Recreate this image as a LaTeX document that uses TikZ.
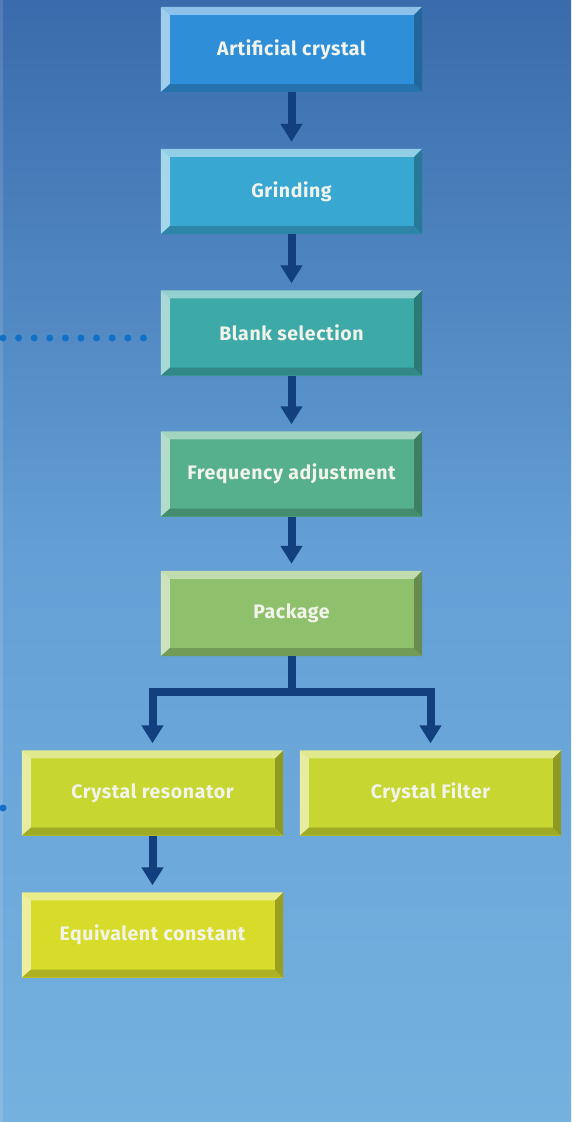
\documentclass[tikz,border=0pt]{standalone}
\usepackage{fontspec}
\setmainfont{Fira Sans}
\usetikzlibrary{arrows.meta}
\definecolor{bgtop}{HTML}{3A6BAC}
\definecolor{bgmid}{HTML}{64A0D5}
\definecolor{bgbot}{HTML}{75B1DF}
\definecolor{arrowc}{HTML}{12407E}
\definecolor{dotc}{HTML}{1070C8}
\definecolor{cA}{HTML}{2E8FD8}
\definecolor{cB}{HTML}{38A7D2}
\definecolor{cC}{HTML}{3DAAA7}
\definecolor{cD}{HTML}{56B08B}
\definecolor{cE}{HTML}{8FC16D}
\definecolor{cF}{HTML}{C7D631}
\definecolor{cG}{HTML}{D7DC2A}
\definecolor{txt}{HTML}{F2F4EC}
\tikzset{
  stepbox/.style={minimum width=261pt, minimum height=85pt, inner sep=0pt,
    text=txt, font=\fontsize{19.5}{21}\selectfont\bfseries\addfontfeature{LetterSpace=3}},
  conn/.style={draw=arrowc, line width=8pt, line join=miter,
    -{Triangle[width=21pt,length=18pt]}, shorten >=7pt},
  dotline/.style={draw=dotc, line width=7pt, line cap=round,
    dash pattern=on 0pt off 15.6pt}
}
\newcommand\bevbox[5]{%
  \node[stepbox, fill=#4] (#1) at (#2,#3) {#5};
  \fill[#4!55!white] (#1.north west) -- (#1.north east)
    -- ([shift={(-8pt,-8pt)}]#1.north east) -- ([shift={(9pt,-8pt)}]#1.north west) -- cycle;
  \fill[#4!45!white] (#1.north west) -- ([shift={(9pt,-8pt)}]#1.north west)
    -- ([shift={(9pt,8pt)}]#1.south west) -- (#1.south west) -- cycle;
  \fill[#4!80!black] (#1.south west) -- ([shift={(9pt,8pt)}]#1.south west)
    -- ([shift={(-8pt,8pt)}]#1.south east) -- (#1.south east) -- cycle;
  \fill[#4!72!black] (#1.south east) -- ([shift={(-8pt,8pt)}]#1.south east)
    -- ([shift={(-8pt,-8pt)}]#1.north east) -- (#1.north east) -- cycle;
}
\begin{document}
\begin{tikzpicture}[x=1pt,y=-1pt]
\useasboundingbox (0,0) rectangle (571,1122);
\shade[top color=bgtop, bottom color=bgmid] (0,0) rectangle (571,560);
\shade[top color=bgmid, bottom color=bgbot] (0,560) rectangle (571,1122);
\fill[white, opacity=0.12] (0,0) rectangle (3,1122);

\bevbox{art}{291.5}{49.5}{cA}{Artificial crystal}
\bevbox{grind}{291.5}{191.5}{cB}{Grinding}
\bevbox{blank}{291.5}{333}{cC}{Blank selection}
\bevbox{freq}{291.5}{474}{cD}{Frequency adjustment}
\bevbox{pack}{291.5}{613.5}{cE}{Package}
\bevbox{reso}{152.5}{793}{cF}{Crystal resonator}
\bevbox{filt}{430.5}{793}{cF}{Crystal Filter}
\bevbox{equiv}{152.5}{935}{cG}{Equivalent constant}

\draw[conn] (art.south) -- (grind.north);
\draw[conn] (grind.south) -- (blank.north);
\draw[conn] (blank.south) -- (freq.north);
\draw[conn] (freq.south) -- (pack.north);
\coordinate (split) at (291.5,692);
\draw[conn] (pack.south) -- (split) -| (reso.north);
\draw[conn] (split) -| (filt.north);
\draw[conn] (reso.south) -- (equiv.north);

\coordinate (dotL) at (3,338);
\coordinate (dotR) at (150,338);
\draw[dotline] (dotL) -- (dotR);
\fill[dotc] (3,808) circle (3.5);
\end{tikzpicture}
\end{document}
